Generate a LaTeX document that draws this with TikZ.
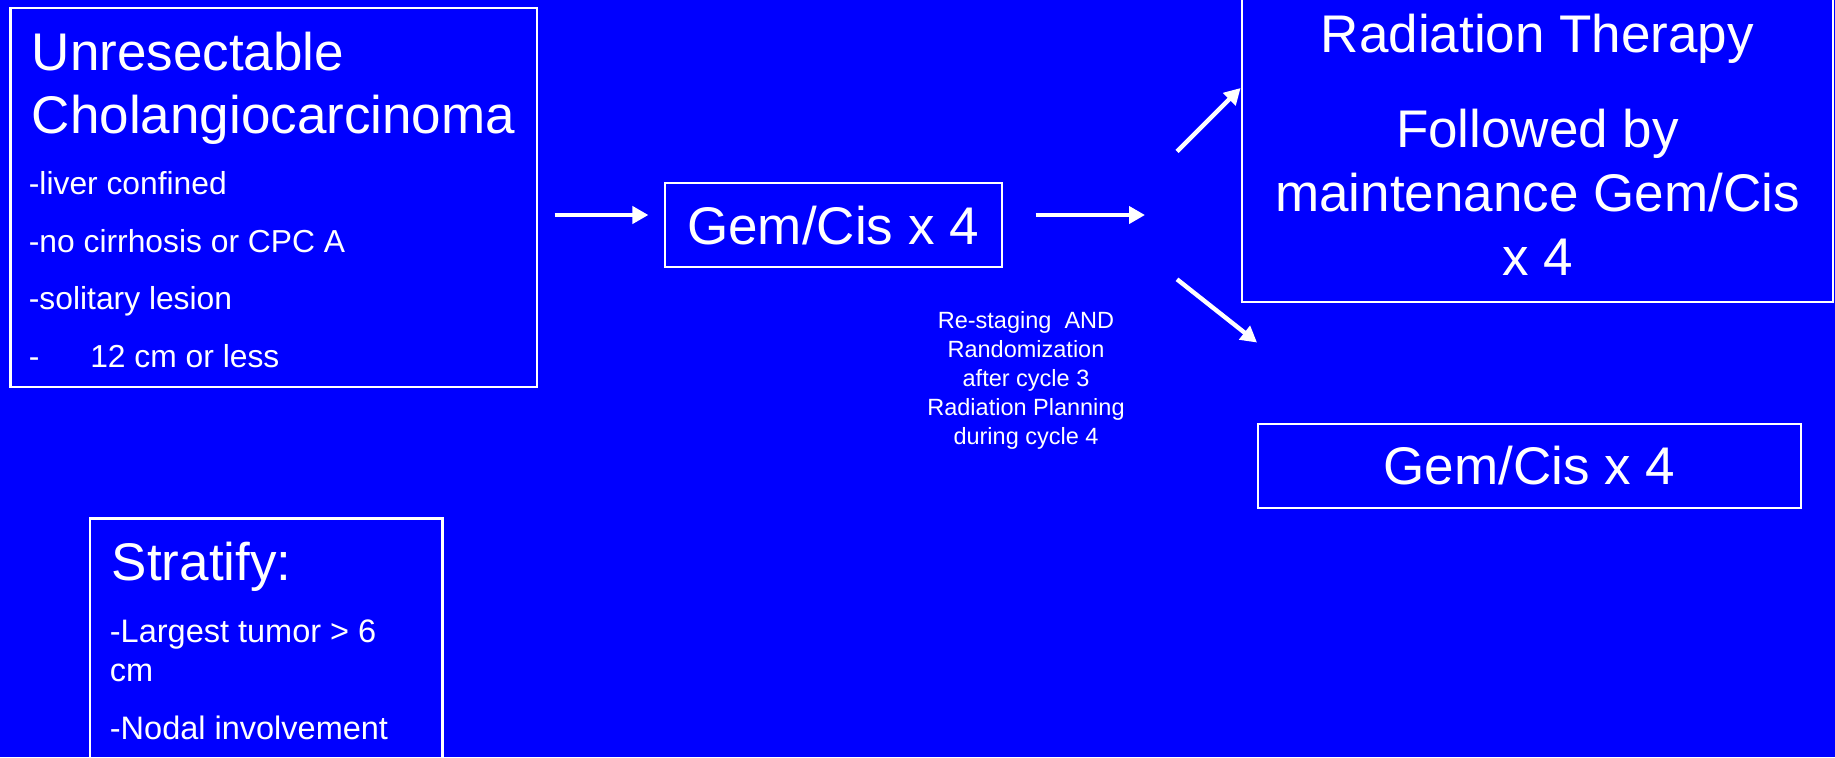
\documentclass[tikz,border=0pt]{standalone}
\usepackage{fontspec}
\setmainfont{Liberation Sans}
\usetikzlibrary{arrows.meta}
\definecolor{slideblue}{RGB}{0,0,255}
\tikzset{
  box/.style={draw=white, line width=1.1pt, rectangle, inner sep=0pt},
  bigtext/.style={text=white, inner sep=0pt, font=\fontsize{26.5}{30}\selectfont},
  listtext/.style={text=white, inner sep=0pt, anchor=base west, font=\fontsize{16.25}{19}\selectfont},
  notetext/.style={text=white, inner sep=0pt, anchor=base, font=\fontsize{11.75}{14}\selectfont},
  arr/.style={draw=white, line width=2.2pt, -{Triangle[length=8pt,width=8.5pt]}},
}
\begin{document}
\begin{tikzpicture}[x=0.5pt,y=-0.5pt]
\useasboundingbox (0,0) rectangle (1835,757);
\clip (0,0) rectangle (1835,757);
\fill[slideblue] (0,0) rectangle (1835,757);

% boxes
\node[box, minimum width=263.25pt, minimum height=189.5pt] (elig) at (273.75,197.5) {};
\node[box, minimum width=168.5pt, minimum height=42pt] (induct) at (833.5,225) {};
\node[box, minimum width=295.65pt, minimum height=166pt] (rt) at (1537.35,136) {};
\node[box, minimum width=271.5pt, minimum height=42.2pt] (chemo) at (1529.5,465.8) {};
\node[box, minimum width=176.2pt, minimum height=150.75pt] (strat) at (266.2,669.25) {};

% eligibility box text
\node[bigtext, anchor=base west] (t1) at (31.5,70) {Unresectable};
\node[bigtext, anchor=base west] (t2) at (31.5,133) {Cholangiocarcinoma};
\begin{scope}[listtext/.append style={font=\fontsize{15.9}{19}\selectfont}]
\node[listtext] (l1) at (28.5,194.3) {-liver confined};
\node[listtext] (l2) at (28.5,252.3) {-no cirrhosis or CPC A};
\node[listtext] (l3) at (28.5,309.3) {-solitary lesion};
\node[listtext] (l4) at (28.5,367.3) {-\hspace*{25.4pt}12 cm or less};
\end{scope}

% induction
\node[bigtext, anchor=base] (t3) at (833,244.5) {Gem/Cis x 4};

% randomisation note
\node[notetext] (n1) at (1026,328.3) {Re-staging\ \ AND};
\node[notetext] (n2) at (1026,357.3) {Randomization};
\node[notetext] (n3) at (1026,386.5) {after cycle 3};
\node[notetext] (n4) at (1026,415.5) {Radiation Planning};
\node[notetext] (n5) at (1026,444) {during cycle 4};

% radiation arm
\node[bigtext, anchor=base] (r1) at (1537.5,52.7) {Radiation Therapy};
\node[bigtext, anchor=base] (r2) at (1537.5,147.7) {Followed by};
\node[bigtext, anchor=base] (r3) at (1537.5,211.7) {maintenance Gem/Cis};
\node[bigtext, anchor=base] (r4) at (1537.5,275.7) {x 4};

% chemotherapy arm
\node[bigtext, anchor=base] (c1) at (1529.5,484) {Gem/Cis x 4};

% stratification
\node[bigtext, anchor=base west] (s1) at (111.5,580.7) {Stratify:};
\node[listtext] (s2) at (109.5,642.7) {-Largest tumor > 6};
\node[listtext] (s3) at (109.5,681.7) {cm};
\node[listtext] (s4) at (109.5,739) {-Nodal involvement};

% connectors
\coordinate (fork) at (1145,215);
\coordinate (upstart) at (1177,151.5);
\coordinate (downstart) at (1177,279.3);
\coordinate (downend) at (1257,342.5);
\draw[arr] ([shift={(16.5,17.5)}]elig.east) -- ([shift={(-15.5,-10)}]induct.west);
\draw[arr] ([shift={(32.5,-10)}]induct.east) -- (fork);
\draw[arr] (upstart) -- ([yshift=24pt]rt.west);
\draw[arr] (downstart) -- (downend);
\end{tikzpicture}
\end{document}
